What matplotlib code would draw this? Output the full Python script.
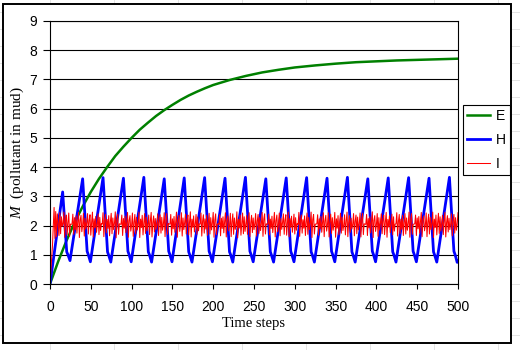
import numpy as np
import matplotlib
matplotlib.use("Agg")
import matplotlib.pyplot as plt
from matplotlib.lines import Line2D
from matplotlib.patches import Rectangle

# ---- data ---------------------------------------------------------------
x_ticks = [0, 50, 100, 150, 200, 250, 300, 350, 400, 450, 500]
y_ticks = [0, 1, 2, 3, 4, 5, 6, 7, 8, 9]
series_names = ["E", "H", "I"]

e_t = [0, 10, 20, 30, 40, 50, 60, 70, 80, 90, 100, 110, 120, 130, 140, 150,
       160, 170, 180, 190, 200, 220, 240, 260, 280, 300, 325, 350, 375, 400,
       425, 450, 475, 500]
e_v = [0, 0.77, 1.47, 2.1, 2.65, 3.15, 3.6, 4.0, 4.38, 4.7, 5.0, 5.28, 5.52,
       5.75, 5.95, 6.13, 6.3, 6.45, 6.58, 6.7, 6.81, 6.98, 7.12, 7.24, 7.33,
       7.41, 7.48, 7.54, 7.59, 7.62, 7.65, 7.67, 7.69, 7.71]

h_t = [0, 15.5, 20.5, 22, 24.5,
       40, 45.5, 47, 49.5,
       65, 70.5, 72, 74.5,
       90, 95.5, 97, 99.5,
       115, 120.5, 122, 124.5,
       140, 145.5, 147, 149.5,
       164.5, 170, 171.5, 174,
       189.5, 195, 196.5, 199,
       214.5, 220, 221.5, 224,
       239.5, 245, 246.5, 249,
       264.5, 270, 271.5, 274,
       289.5, 295, 296.5, 299,
       314.5, 320, 321.5, 324,
       339.5, 345, 346.5, 349,
       364.5, 370, 371.5, 374,
       389.5, 395, 396.5, 399,
       414.5, 420, 421.5, 424,
       439.5, 445, 446.5, 449,
       464.5, 470, 471.5, 474,
       489.5, 495, 496.5, 499, 500]
h_v = [0, 3.15, 1.1, 1.0, 0.8,
       3.6, 1.12, 1.0, 0.76,
       3.64, 1.1, 0.98, 0.75,
       3.62, 1.12, 1.0, 0.76,
       3.65, 1.1, 0.99, 0.75,
       3.6, 1.12, 1.0, 0.76,
       3.63, 1.1, 0.98, 0.75,
       3.64, 1.12, 1.0, 0.76,
       3.62, 1.1, 0.99, 0.75,
       3.65, 1.12, 1.0, 0.76,
       3.6, 1.1, 0.98, 0.75,
       3.63, 1.12, 1.0, 0.76,
       3.64, 1.1, 0.99, 0.75,
       3.62, 1.12, 1.0, 0.76,
       3.65, 1.1, 0.98, 0.75,
       3.6, 1.12, 1.0, 0.76,
       3.63, 1.1, 0.99, 0.75,
       3.64, 1.12, 1.0, 0.76,
       3.62, 1.1, 0.98, 0.75,
       3.65, 1.12, 1.0, 0.74, 0.78]

i_vals = np.array("""
0
0.45 0.90 1.30 2.00 2.62 1.56 2.48 1.62 2.40 2.10 1.66 2.44 1.72 2.30 1.98 2.06 2.46 1.60 2.22 2.36
1.68 2.12 2.43 1.63 2.05 2.04 2.06 2.39 1.70 2.27 1.85 2.33 1.74 2.14 2.45 1.59 2.19 2.35 1.79 2.02
2.42 1.64 2.25 1.88 2.09 2.41 1.71 2.18 2.37 1.67 2.11 2.46 1.61 2.23 1.92 2.31 1.77 2.03 2.40 1.69
2.28 1.83 2.07 2.05 2.44 1.62 2.16 2.38 1.75 2.21 1.90 2.34 1.65 2.13 2.42 1.72 2.26 1.86 2.08 2.47
1.58 2.20 2.39 1.70 2.06 2.05 2.04 2.36 1.66 2.24 1.91 2.32 1.76 2.12 2.45 1.60 2.17 2.34 1.81 2.01
2.43 1.63 2.11 2.38 1.72 2.28 1.85 2.05 2.46 1.59 2.22 1.93 2.35 1.68 2.09 2.41 1.73 2.29 1.82 2.03
2.36 1.69 2.17 2.45 1.61 2.10 2.33 1.78 2.24 1.87 2.05 2.40 1.66 2.14 2.37 1.74 2.28 1.84 2.06 2.44
1.62 2.21 2.41 1.70 2.07 2.05 2.05 2.38 1.67 2.23 1.89 2.31 1.77 2.13 2.46 1.60 2.16 2.35 1.80 2.02
2.44 1.64 2.26 1.86 2.10 2.39 1.71 2.20 2.36 1.68 2.12 2.47 1.61 2.22 1.94 2.33 1.78 2.04 2.38 1.70
2.29 1.82 2.06 2.05 2.43 1.64 2.15 2.37 1.74 2.23 1.88 2.35 1.67 2.11 2.42 1.71 2.27 1.85 2.09 2.45
1.60 2.19 2.40 1.69 2.05 2.06 2.04 2.37 1.65 2.25 1.90 2.30 1.75 2.14 2.44 1.61 2.18 2.33 1.82 2.00
2.42 1.62 2.13 2.40 1.70 2.26 1.87 2.04 2.47 1.58 2.21 1.92 2.36 1.67 2.08 2.43 1.72 2.30 1.80 2.04
2.34 1.70 2.19 2.44 1.62 2.09 2.35 1.76 2.26 1.86 2.06 2.41 1.64 2.15 2.38 1.73 2.27 1.83 2.05 2.45
1.63 2.22 2.40 1.71 2.06 2.04 2.06 2.39 1.68 2.22 1.90 2.32 1.76 2.12 2.45 1.61 2.17 2.36 1.79 2.03
2.43 1.65 2.24 1.87 2.11 2.40 1.70 2.19 2.37 1.67 2.10 2.46 1.62 2.24 1.93 2.32 1.77 2.05 2.39 1.71
2.27 1.84 2.07 2.04 2.45 1.63 2.17 2.36 1.74 2.20 1.91 2.33 1.66 2.13 2.43 1.70 2.28 1.86 2.07 2.46
1.59 2.21 2.38 1.71 2.05 2.05 2.06 2.37 1.67 2.23 1.89 2.31 1.77 2.11 2.44 1.62 2.16 2.35 1.81 2.02
2.44 1.61 2.12 2.39 1.73 2.27 1.84 2.06 2.45 1.60 2.23 1.91 2.34 1.69 2.10 2.42 1.74 2.29 1.83 2.01
2.37 1.68 2.16 2.46 1.62 2.11 2.34 1.77 2.25 1.88 2.04 2.41 1.65 2.15 2.36 1.72 2.29 1.85 2.07 2.43
1.61 2.20 2.42 1.69 2.06 2.05 2.04 2.38 1.66 2.24 1.92 2.30 1.75 2.14 2.47 1.59 2.18 2.34 1.80 2.03
2.41 1.63 2.27 1.85 2.08 2.40 1.72 2.21 2.35 1.69 2.13 2.45 1.60 2.21 1.95 2.33 1.76 2.03 2.39 1.68
2.30 1.81 2.05 2.06 2.44 1.64 2.14 2.38 1.73 2.22 1.87 2.35 1.66 2.12 2.41 1.71 2.26 1.84 2.08 2.46
1.60 2.18 2.41 1.70 2.04 2.05 2.06 2.36 1.66 2.26 1.89 2.31 1.74 2.13 2.45 1.62 2.19 2.33 1.82 2.01
2.43 1.62 2.12 2.39 1.71 2.28 1.86 2.05 2.46 1.59 2.22 1.93 2.36 1.68 2.09 2.42 1.73 2.30 1.81 2.04
2.35 1.69 2.18 2.45 1.61 2.10 2.34 1.78 2.25 1.86 2.05 2.40 1.65 2.16 2.38 1.74 2.27 1.84 2.06 2.44
""".split(), dtype=float)
i_t = np.arange(len(i_vals))

# ---- style --------------------------------------------------------------
plt.rcParams["mathtext.fontset"] = "custom"
plt.rcParams["mathtext.rm"] = "Liberation Serif"
plt.rcParams["mathtext.it"] = "Liberation Serif:italic"

W, H = 520, 350
fig = plt.figure(figsize=(W / 100, H / 100), dpi=100)
fig.patch.set_facecolor("white")

# faint worksheet cell lines behind the chart object
for cx in [50 + 64 * k for k in range(-1, 8)]:
    fig.add_artist(Line2D([cx / W, cx / W], [0, 1], color="#e4e4e4", lw=0.7,
                          zorder=-3, transform=fig.transFigure))
for ry in [335 - 17 * k for k in range(20)]:
    fig.add_artist(Line2D([0, 1], [1 - ry / H, 1 - ry / H], color="#e4e4e4",
                          lw=0.7, zorder=-3, transform=fig.transFigure))
fig.add_artist(Rectangle((3 / W, 1 - 343 / H), 508 / W, 339 / H,
                         facecolor="white", edgecolor="black", lw=1.4,
                         zorder=-2, transform=fig.transFigure))

ax = fig.add_axes([50 / W, 1 - 284 / H, 408 / W, 263 / H])
ax.set_facecolor("white")

ax.plot(e_t, e_v, color="#008000", lw=1.8, label=series_names[0])
ax.plot(h_t, h_v, color="#0000ff", lw=2.0, label=series_names[1])
ax.plot(i_t, i_vals, color="#ff0000", lw=0.75, label=series_names[2])

ax.set_xlim(0, 500)
ax.set_ylim(0, 9)
ax.set_xticks(x_ticks)
ax.set_yticks(y_ticks)
ax.yaxis.grid(True, color="black", lw=0.8)
ax.set_axisbelow(True)
for s in ax.spines.values():
    s.set_color("black")
    s.set_linewidth(0.8)

tick_font = {"family": "Liberation Sans", "size": 10}
ax.set_xticklabels([str(v) for v in x_ticks], fontdict=tick_font)
ax.set_yticklabels([str(v) for v in y_ticks], fontdict=tick_font)
ax.tick_params(axis="x", direction="out", length=3.8, width=0.8, pad=8)
ax.tick_params(axis="y", direction="out", length=5, width=0.8, pad=4)

fig.text(254 / W, 1 - 324 / H, "Time steps", family="Liberation Serif",
         size=10.5, ha="center", va="center")
fig.text(17 / W, 1 - 153 / H, r"$\mathit{M}$  (pollutant in mud)",
         family="Liberation Serif", size=11, rotation=90,
         ha="center", va="center")

leg = ax.legend(loc="center", bbox_to_anchor=(486.5 / W, 1 - 140 / H),
                bbox_transform=fig.transFigure, frameon=True, fancybox=False,
                framealpha=1, edgecolor="black",
                prop={"family": "Liberation Sans", "size": 10},
                handlelength=1.65, handletextpad=0.45, labelspacing=0.72,
                borderpad=0.3, borderaxespad=0)
leg.get_frame().set_linewidth(0.8)

fig.savefig("out.png", dpi=100)
